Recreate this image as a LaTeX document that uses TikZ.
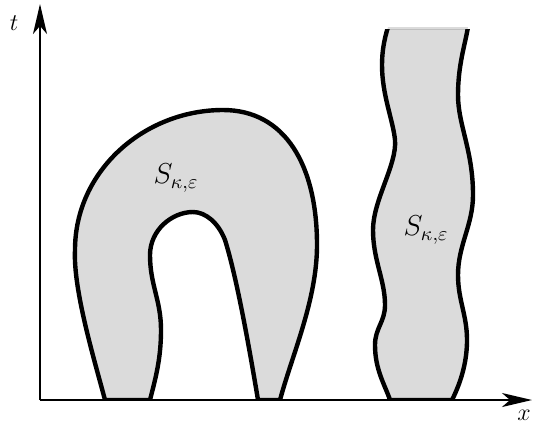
\documentclass[tikz,border=0pt]{standalone}
\usetikzlibrary{arrows.meta}
\begin{document}
\begin{tikzpicture}[x=0.5pt,y=-0.5pt,
  region/.style={fill=black!14},
  bound/.style={line width=2.2pt,line join=round},
  axis/.style={line width=1pt,-{Stealth[length=15pt,width=7pt,inset=4pt]}},
  lbl/.style={inner sep=0pt},
  big/.style={lbl,font=\fontsize{14}{16}\selectfont}]
\useasboundingbox (0,0) rectangle (533,425);
\def\archpath{(105,400) .. controls (95,362) and (73,290) .. (75,250)
  .. controls (75,170) and (145,110) .. (223,110)
  .. controls (285,110) and (317,165) .. (317,245)
  .. controls (317,300) and (292,355) .. (280,400)
  -- (258,400) .. controls (248,340) and (236,275) .. (225,240)
  .. controls (218,222) and (205,212) .. (193,212)
  .. controls (172,212) and (150,230) .. (150,255)
  .. controls (150,285) and (161,300) .. (161,330)
  .. controls (161,360) and (155,380) .. (150,400) -- cycle}
\def\strippath{(388,27) .. controls (384,40) and (382,52) .. (382,65)
  .. controls (382,95) and (393,120) .. (395,140)
  .. controls (397,165) and (373,200) .. (373,230)
  .. controls (373,260) and (385,280) .. (385,305)
  .. controls (385,322) and (375,328) .. (375,345)
  .. controls (375,370) and (385,385) .. (390,400)
  -- (452,400) .. controls (462,380) and (467,360) .. (467,340)
  .. controls (467,315) and (458,300) .. (458,275)
  .. controls (458,245) and (473,225) .. (473,195)
  .. controls (473,150) and (458,125) .. (458,95)
  .. controls (458,65) and (465,45) .. (468,27) -- cycle}
\fill[region] \archpath;
\fill[region] \strippath;
\begin{scope}
  \clip (0,29.5) rectangle (533,399);
  \draw[bound] \archpath;
  \draw[bound] \strippath;
\end{scope}
\coordinate (O) at (40,400);
\coordinate (T) at (40,4);
\coordinate (X) at (532,400);
\draw[axis] (O) -- (T);
\draw[axis] (O) -- (X);
\node[lbl,font=\large] (tl) at (14,23) {$t$};
\node[lbl,font=\large] (xl) at (524,415) {$x$};
\node[big] (s1) at (176,178) {$S_{\kappa,\varepsilon}$};
\node[big] (s2) at (426,230) {$S_{\kappa,\varepsilon}$};
\end{tikzpicture}
\end{document}
